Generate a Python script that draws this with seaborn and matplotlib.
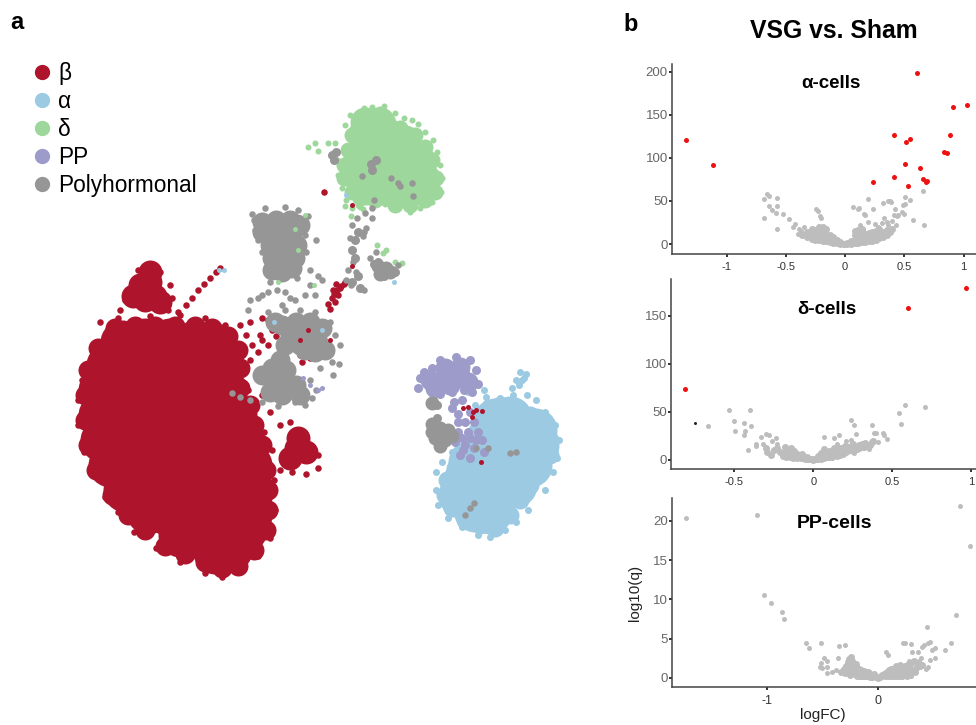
import matplotlib
matplotlib.use("Agg")
import matplotlib.pyplot as plt
import pandas as pd
import seaborn as sns

sns.set_style("white")
plt.rcParams['font.family'] = ['Liberation Sans', 'DejaVu Sans']
plt.rcParams['text.color'] = 'black'

W, H = 976, 725
COL = {"β": "#ae152c", "α": "#9ccae2", "δ": "#9dd79b", "PP": "#9d9bc9", "Polyhormonal": "#969696"}
GREY, RED = "#bdbdbd", "#ee1111"

# ---------- panel a: embedding (no axes are shown)
beta_core = [(122,342),(145,340),(170,340),(195,342),(215,345),(108,365),(130,365),(155,365),(180,365),(205,365),(222,368),
 (100,390),(125,390),(150,390),(175,390),(200,390),(225,390),(100,415),(125,415),(150,415),(175,415),(200,415),(225,415),(235,415),
 (102,440),(125,440),(150,440),(175,440),(200,440),(225,440),(243,440),(110,465),(130,465),(155,465),(180,465),(205,465),(230,465),(250,465),
 (125,490),(145,490),(170,490),(195,490),(220,490),(252,490),(148,512),(170,515),(195,515),(220,515),(250,515),(238,515),
 (180,535),(205,538),(228,538),(245,530),(215,552),(230,550)]
beta_rim = [(115,328),(135,326),(155,326),(175,326),(195,326),(212,328),(228,336),(238,350),(240,368),(240,388),(250,405),(254,425),(262,445),(266,470),(268,490),(268,510),(266,530),(254,550),(238,566),(222,568),(205,562),(185,554),(165,546),(145,530),(128,515),(112,495),(96,470),(88,445),(85,420),(85,395),(88,370),(98,348)]
beta_lobe = [(296,448),(306,452),(290,458),(298,438),(140,285),(150,282),(155,296),(145,300),(160,302),(133,296),(150,272)]
beta_edge = [(120,310),(128,290),(125,300),(138,270),(150,265),(160,272),(170,285),(172,298),(168,310),(178,312),(186,305),(192,298),(198,290),(204,284),(210,278),(216,272),(220,268),
 (100,322),(118,318),(150,316),(180,315),(205,318),(225,325),(240,325),(250,322),(262,318),(246,335),(252,345),(260,335),(272,330),(250,360),(258,352),(268,345),(276,336),(258,375),(268,372),(248,390),(262,395),(275,385),(254,405),(270,412),(258,425),
 (82,380),(78,400),(78,425),(84,452),(92,475),(105,497),(118,512),(134,532),(156,548),(180,562),(205,573),(222,577),(240,572),(258,556),(270,538),(275,510),(274,480),(272,450),(264,432),(280,425),(290,422),(302,432),(318,455),(318,468),(306,474),(292,472),(280,470),
 (333,290),(336,284),(340,288),(332,298),(328,304),(344,284),(338,295),(335,302),(330,309),(345,282),(337,290),(334,294),(341,286),(299,218),(302,362),(324,192),(310,358),(288,345),(268,320),(262,340),(296,330),(300,355),(318,343)]

delta_core = [(365,122),(380,122),(362,135),(375,140),(392,135),(405,140),(358,155),(370,160),(390,155),(410,150),(422,162),(356,175),(370,180),(390,175),(410,170),(425,178),(366,190),(382,190),(402,192),(420,190)]
delta_rim = [(368,116),(380,114),(360,125),(352,135),(348,150),(344,165),(344,178),(352,192),(360,198),(375,200),(395,205),(410,205),(425,200),(435,192),(436,178),(432,160),(425,147),(415,135),(400,128),(388,122)]
delta_edge = [(364,108),(372,107),(384,106),(395,113),(404,118),(412,120),(418,124),(425,132),(433,140),(437,152),(440,165),(442,178),(441,192),(432,202),(420,208),(410,212),(398,208),(385,204),(372,204),(358,205),(346,200),(352,208),(342,188),(338,175),(337,160),(335,143),(328,143),(318,151),(345,125),(350,115),(359,112),
 (345,206),(351,216),(360,207),(363,209),(377,245),(383,253),(386,250),(402,263),(395,262),(315,143),(308,147)]

poly_core = [(262,222),(276,220),(290,220),(300,225),(262,232),(278,232),(292,234),(270,245),(285,245),(297,245),(272,258),(285,258),(295,258),(272,270),(282,272),(292,268),
 (282,325),(296,322),(310,322),(322,328),(275,322),(290,335),(305,336),(318,342),(315,352),(325,350),(305,350),(285,345),(300,345),(280,360),(272,368),(286,370),(272,380),(285,382),(296,385),(262,375),(270,392),(282,395),(300,395)]
poly_blob = [(432,424),(440,428),(448,430),(435,438),(445,440),(440,446),(452,436),(432,432),(378,266),(386,268),(380,274),(390,272),(432,403)]
poly_mid = [(378,262),(385,268),(378,272),(388,274),(374,264),(392,270),(384,276),(395,272),(332,155),(336,152),(334,160),(371,164),(376,160),(372,170),(355,240),(358,232),(352,250),(355,258),(358,276),(352,282),(360,288),(437,405),(437,418)]
poly_edge = [(254,220),(252,214),(265,208),(285,207),(298,210),(308,216),(305,235),(306,252),(316,240),(255,230),(258,240),(262,252),(270,282),(268,292),(258,298),(250,300),(277,290),(285,292),(297,278),(310,270),(318,276),(310,285),(322,280),(295,300),(305,295),(315,295),(282,305),(290,298),(262,295),(248,310),
 (268,312),(285,310),(300,310),(315,312),(330,322),(335,335),(340,345),(332,362),(339,364),(333,375),(310,380),(316,390),(305,405),(312,398),(295,402),(278,406),(262,402),(320,368),
 (352,225),(357,218),(365,213),(372,208),(374,200),(372,218),(364,232),(350,238),(353,262),(348,270),(351,285),(356,272),(364,290),(346,280),(363,236),(366,228),
 (376,252),(370,258),(398,265),(391,178),(362,176),(398,183),(412,183),(413,196),(400,186),
 (240,397),(250,400),(232,393),(470,508),(474,503),(465,515),(476,448),(488,448),(516,452),(510,453)]

alpha_core = [(515,425),(535,430),(537,445),(530,465),(510,445),(490,440),(490,465),(465,480),(460,495),(480,495),(500,490),(515,485),(490,512),(475,510),(495,420),(510,418),(470,462)]
alpha_rim = [(500,405),(515,408),(530,415),(545,425),(550,440),(550,455),(542,470),(530,485),(520,500),(510,515),(495,528),(480,525),(465,520),(452,508),(445,495),(447,480),(455,468)]
alpha_edge = [(436,490),(436,472),(442,462),(452,452),(465,442),(472,428),(478,415),(486,403),(500,398),(510,400),(520,372),(522,380),(516,380),(512,388),(524,378),(527,395),(526,374),(519,385),(513,395),(536,400),(545,412),(555,425),(559,440),(557,458),(553,472),(545,490),(530,495),(528,510),(516,522),(505,530),(490,537),(478,535),(462,527),(448,518),(438,505),(452,510),(468,392),(484,390),(486,397),(475,405),(490,410),(475,385)]

pp_core = [(430,380),(445,378),(460,375),(468,382),(445,368),(460,367),(450,385),(435,388)]
pp_edge = [(418,388),(420,378),(424,372),(432,368),(440,360),(456,357),(470,360),(476,370),(478,384),(440,394),(452,392),(464,390),(472,392),(454,402),(462,400),(470,412),(458,414),(465,422),(474,422),(458,432),(468,432),(478,432),(455,442),(465,445),(474,448),(460,455),(470,458),(482,440),(484,452),(452,408),(462,438),(458,422),(470,438),(463,450),(476,440)]

beta_specks = [(463,408),(468,407),(473,412),(476,410),(482,411),(472,417),(481,462),(300,340),(308,330),(330,340),(352,266),(352,205)]
alpha_specks = [(219,270),(224,270),(274,322),(322,330),(394,282),(346,195)]
pp_specks = [(303,378),(310,385),(318,390),(322,388)]
delta_specks = [(305,215),(295,229),(298,250),(278,282),(314,285)]

# ---------- panel b: volcano values
ax_x_grey = [-.685,-.66,-.645,-.57,-.64,-.575,-.62,-.585,-.525,-.68,-.57,-.475,-.44,-.42,-.40,-.37,-.39,-.36,-.345,-.245,-.23,-.21,-.20,.19,.235,.07,.11,.12,.16,.17,.32,.36,.38,.39,.505,.51,.55,.49,.42,.41,.45,.48,.5,.57,.67,.66,.33,.4,.44,.43,.36,.35,.31,.28,.25,.19,.15,.13,.24,.22]
ax_y_grey = [52,58,56,53,44,44,40,36,35,30,18,29,20,23,12,15,17,12,20,41,38,32,30,52,41,43,41,42,35,34,48,50,50,49,54,47,51,45,41,34,34,37,35,28,22,62,30,27,33,22,22,26,24,20,23,25,18,22,13,12]
ax_x_band = [-.36,-.32,-.32,-.28,-.28,-.28,-.25,-.25,-.25,-.22,-.22,-.22,-.22,-.19,-.19,-.19,-.19,-.16,-.16,-.16,-.16,-.13,-.13,-.13,-.1,-.1,-.1,-.07,-.07,-.07,-.04,-.04,-.01,-.01,.02,.02,.05,.05,.08,.08,.08,.08,.11,.11,.11,.11,.14,.14,.14,.14,.17,.17,.17,.2,.2,.2,.23,.23,.23,.26,.26,.26,.29,.29,.29,.32,.32,.35,.35,.38,.4]
ax_y_band = [10,8,14,6,12,18,5,10,16,5,10,15,20,4,9,14,20,3,7,12,17,2,6,11,1.5,5,8,1,3,5,.5,2,0,.5,0,1,.5,3,1,5,10,15,1,6,11,16,2,7,12,17,2,7,12,3,8,13,4,9,14,5,10,15,7,12,18,8,14,10,16,14,18]
ax_x_red = [-1.34,-1.11,.61,1.03,.915,.885,.41,.545,.515,.835,.86,.505,.635,.41,.235,.53,.66,.68,.69]
ax_y_red = [121,92,199,161,158.5,126,126,122,119,107,106,93,88,78,72.5,67.5,75,72,73]

dl_x_grey = [-.53,-.40,-.5,-.44,-.395,-.665,-.495,-.43,-.435,-.365,-.36,-.41,-.33,-.32,-.30,-.28,-.26,-.235,-.23,.705,.58,.545,.557,.24,.255,.27,.373,.386,.40,.44,.447,.464,.413,.065,.133,.16,.15,.21,.24,.19,.26,.35,.30]
dl_y_grey = [52,52,40.6,38,35,35,30,30,26,17,15,10,24,17,27,26,20,22.5,17,55.5,57,49,37,41.7,36,27,36,28.5,28,28.5,26,22,19,24,22.5,25.7,17,20,21,12,7,11,17]
dl_x_band = [-.3,-.29,-.27,-.25,-.23,-.21,-.2,-.19,-.18,-.18,-.17,-.16,-.16,-.15,-.14,-.14,-.13,-.12,-.12,-.11,-.1,-.1,-.09,-.08,-.07,-.06,-.05,-.04,-.03,-.02,-.01,0,.01,.02,.03,.04,.05,.05,.06,.07,.07,.08,.09,.1,.1,.11,.12,.13,.13,.14,.15,.16,.17,.17,.18,.19,.2,.2,.21,.22,.23,.24,.25,.26,.27,.28,.29,.3,.31,.32,.33,.34,.36,.37,.38,
 -.17,-.15,-.13,-.11,-.09,-.07,.03,.05,.07,.09,.11,.13,.15,.17,.19,.21,.23,.25,.27,.29,.31]
dl_y_band = [12,8,5,10,12,8,7,4,6,14,3,5,10,3,7,12,2,5,9,3,2,6,3,2,4,2,1.5,3,1,1,.5,0,.5,1,1,2,1,7,4,2,11,7,3,3,9,5,3,5,12,7,4,8,5,12,9,6,10,15,8,13,10,15,9,12,14,11,16,14,17,13,18,15,16,19,20,
 8,9,7,6,5,6,4,4,5,6,8,9,10,11,12,13,12,17,11,12,15]
dl_x_red = [-.81,.6,.965]
dl_y_red = [74,158,179.5]
dl_x_black = [-.745]
dl_y_black = [39]

pp_x_grey = [-1.73,-1.09,.735,.825,-1.024,-.967,-.862,-.844,.705,.44,-.65,-.62,-.51,-.354,-.30,-.357,-.486,-.46,-.51,-.525,-.505,-.46,-.46,-.41,-.38,.225,.24,.3,.075,.09,.31,.36,.4,.41,.455,.47,.51,.485,.51,.6,.655,.465,.45,.43,.39,.37,.34,.3,.28,.27]
pp_y_grey = [20.3,20.7,21.9,16.8,10.5,9.5,8.4,7.5,8,6.5,4.4,3.8,4.4,4.1,4.15,2.5,2.5,2.2,1.9,1.35,1.3,1.4,.6,.7,1,4.4,4.5,4.3,3.3,2.9,3.3,3.3,4,4.2,4.4,4.6,3.8,3.5,2.6,3.6,4.4,2.3,1.35,1.2,2.5,2.2,1.1,.2,2.1,1.9]
pp_x_band = [-.33,-.31,-.3,-.29,-.28,-.27,-.27,-.26,-.25,-.25,-.24,-.23,-.23,-.22,-.21,-.2,-.2,-.18,-.16,-.14,-.12,-.1,-.08,-.06,-.04,-.02,0,.02,.04,.06,.08,.1,.1,.12,.12,.14,.14,.16,.16,.18,.18,.2,.2,.22,.22,.24,.24,.26,.26,.28,.28,.3,.3,.32,.32,.34,.36,.38,.4,
 -.19,-.17,-.15,-.13,-.11,-.09,-.07,-.05,-.19,-.17,-.15,-.13,-.11,-.09,.03,.05,.07,.09,.11,.13,.15,.17,.19,.21,.23,.25,.27,.29,.09,.13,.17,.21,.25,.29,.33]
pp_y_band = [.8,1.2,.6,1.5,.8,2,1.1,2.4,.4,1.6,2.7,.6,2.1,1.3,.5,1.8,.9,.5,.8,.3,.7,.3,.6,.2,.5,.1,0,.1,.4,.2,.7,.3,1,.4,1.2,.2,1,.4,1.5,.3,1.2,.5,1.6,.3,1.2,.6,1.5,.3,1.1,.5,1.4,.7,1.9,.9,2.1,1.3,1.8,1.5,1.7,
 .2,.3,.2,.2,.2,.2,.15,.15,1.3,1.1,1,.9,.8,.7,.3,.5,.6,.8,.9,1.1,1.2,1,.7,.9,.8,1,.8,1,.2,.3,.25,.25,.35,.4,.8]


def frame(pts):
    return pd.DataFrame(pts, columns=["x", "y"])


def px(d):
    return (d * 72 / 100) ** 2


fig = plt.figure(figsize=(W / 100, H / 100), dpi=100)
ax = fig.add_axes([0, 0, 1, 1])
ax.set_xlim(0, W)
ax.set_ylim(H, 0)
ax.axis("off")

layers = [
    (beta_core, "β", 44), (beta_rim, "β", 20), (beta_lobe, "β", 24), (beta_edge, "β", 6.5),
    (alpha_core, "α", 44), (alpha_rim, "α", 18), (alpha_edge, "α", 7),
    (delta_core, "δ", 30), (delta_rim, "δ", 16), (delta_edge, "δ", 6),
    (pp_core, "PP", 20), (pp_edge, "PP", 9),
    (poly_core, "Polyhormonal", 20), (poly_blob, "Polyhormonal", 14), (poly_mid, "Polyhormonal", 9), (poly_edge, "Polyhormonal", 6.5),
    (beta_specks, "β", 5), (alpha_specks, "α", 5), (pp_specks, "PP", 5), (delta_specks, "δ", 5),
]
for pts, name, d in layers:
    sns.scatterplot(data=frame(pts), x="x", y="y", ax=ax, color=COL[name], s=px(d), linewidth=0, legend=False)

handles = [plt.Line2D([], [], ls="", marker="o", ms=10, color=COL[k], label=k) for k in COL]
ax.legend(handles=handles, loc="upper left", bbox_to_anchor=(28 / W, 1 - 62 / H), frameon=False, fontsize=16.3,
          labelspacing=0.22, handletextpad=0.12, borderpad=0, borderaxespad=0, handlelength=1.2)

ax.text(10, 22, "a", fontsize=17, fontweight="bold", ha="left", va="center")
ax.text(623, 24, "b", fontsize=17, fontweight="bold", ha="left", va="center")
ax.text(834, 31, "VSG vs. Sham", fontsize=17.8, fontweight="bold", ha="center", va="center")


def volcano(box, xlim, ylim, xt, xl, yt, title, tpos, tsize, grey, band, red=None, black=None):
    l, t, r, b = box
    a = fig.add_axes([l / W, 1 - b / H, (r - l) / W, (b - t) / H])
    a.patch.set_alpha(0)
    sns.scatterplot(x=grey[0], y=grey[1], ax=a, color=GREY, s=px(5), linewidth=0, legend=False)
    sns.scatterplot(x=band[0], y=band[1], ax=a, color=GREY, s=px(7), linewidth=0, legend=False)
    if red:
        sns.scatterplot(x=red[0], y=red[1], ax=a, color=RED, s=px(5), linewidth=0, legend=False)
    if black:
        sns.scatterplot(x=black[0], y=black[1], ax=a, color="#222222", s=px(3), linewidth=0, legend=False)
    a.set_xlim(*xlim)
    a.set_ylim(*ylim)
    a.set_xticks(xt, xl)
    a.set_yticks(yt)
    a.set_xlabel("")
    a.set_ylabel("")
    sns.despine(ax=a)
    for s in ("left", "bottom"):
        a.spines[s].set_color("#444444")
        a.spines[s].set_linewidth(1.1)
    a.tick_params(axis="y", length=2, width=1.2, color="#111111", labelsize=9.5, labelcolor="#666666", pad=1, left=True)
    a.tick_params(axis="x", length=2, width=1.2, color="#111111", labelsize=8, labelcolor="#333333", pad=4, bottom=True)
    a.text((tpos[0] - l) / (r - l), 1 - (tpos[1] - t) / (b - t), title, transform=a.transAxes,
           fontsize=tsize, fontweight="bold", ha="center", va="center")
    return a


volcano((672, 64, 976, 254), (-1.46, 1.105), (-11.6, 209), [-1, -.5, 0, .5, 1], ["-1", "-0.5", "0", "0.5", "1"],
        [0, 50, 100, 150, 200], "α-cells", (831, 84), 13.5, (ax_x_grey, ax_y_grey), (ax_x_band, ax_y_band), (ax_x_red, ax_y_red))
volcano((671, 279, 976, 469), (-.90, 1.03), (-9.4, 188.5), [-.5, 0, .5, 1], ["-0.5", "0", "0.5", "1"],
        [0, 50, 100, 150], "δ-cells", (827, 309), 13.5, (dl_x_grey, dl_y_grey), (dl_x_band, dl_y_band), (dl_x_red, dl_y_red), (dl_x_black, dl_y_black))
pa = volcano((672, 498, 976, 687), (-1.856, .883), (-1.15, 22.9), [-1, 0], ["-1", "0"],
             [0, 5, 10, 15, 20], "PP-cells", (834, 523), 14, (pp_x_grey, pp_y_grey), (pp_x_band, pp_y_band))
pa.tick_params(axis="x", labelsize=9)
ax.text(635, 593, "log10(q)", fontsize=11, rotation=90, ha="center", va="center", color="#222222")
ax.text(823, 715, "logFC)", fontsize=11, ha="center", va="center", color="#222222")

fig.savefig("out.png", dpi=100)
